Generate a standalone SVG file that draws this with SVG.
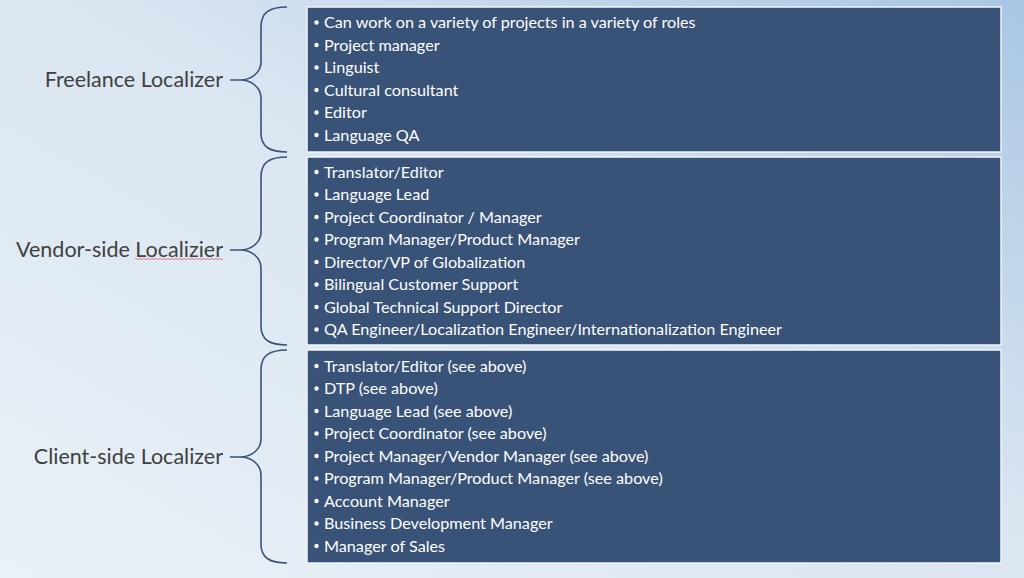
<svg xmlns="http://www.w3.org/2000/svg" width="1024" height="578" viewBox="0 0 1024 578">
<defs>
<linearGradient id="bg" x1="1" y1="0" x2="0" y2="1">
<stop offset="0" stop-color="#a9c6e3"/>
<stop offset="0.45" stop-color="#d9e5f1"/>
<stop offset="1" stop-color="#eaf1f7"/>
</linearGradient>
<style>
.box{fill:#385278;stroke:#f2f6fb;stroke-width:1.5}
.brace{fill:none;stroke:#3a5277;stroke-width:1.6}
.lbl{font-family:Lato,"Open Sans","Liberation Sans",sans-serif;font-size:21.5px;fill:#404040;text-anchor:end}
.item{font-family:Lato,"Open Sans","Liberation Sans",sans-serif;font-size:16.2px;fill:#ffffff}
.bul{fill:#ffffff}
</style>
</defs>
<rect width="1024" height="578" fill="url(#bg)"/>
<g id="connectors">
<path class="brace" d="M287 7 C270 7 261 12 261 27 L261 62 C261 72 252 80 240 80 C252 80 261 88 261 98 L261 133 C261 147 270 152 287 152 M230 80 L240 80"/>
<path class="brace" d="M287 157 C270 157 261 162 261 177 L261 232 C261 242 252 250 240 250 C252 250 261 258 261 268 L261 326 C261 340 270 345 287 345 M230 250 L240 250"/>
<path class="brace" d="M287 350 C270 350 261 355 261 370 L261 439 C261 449 252 457 240 457 C252 457 261 465 261 475 L261 544 C261 558 270 563 287 563 M230 457 L240 457"/>
<path d="M135 259 q1 -1.5 2 0 t2 0 t2 0 t2 0 t2 0 t2 0 t2 0 t2 0 t2 0 t2 0 t2 0 t2 0 t2 0 t2 0 t2 0 t2 0 t2 0 t2 0 t2 0 t2 0 t2 0 t2 0 t2 0 t2 0 t2 0 t2 0 t2 0 t2 0 t2 0 t2 0 t2 0 t2 0 t2 0 t2 0 t2 0 t2 0 t2 0 t2 0 t2 0 t2 0 t2 0 t2 0 t2 0 t2 0" fill="none" stroke="#e06060" stroke-width="0.8"/>
</g>
<g id="freelance">
<text class="lbl" x="223" y="87">Freelance Localizer</text>
<rect class="box" x="307" y="7" width="694" height="145"/>
<g class="bul">
<circle cx="316.5" cy="22.5" r="2.2"/><circle cx="316.5" cy="45" r="2.2"/><circle cx="316.5" cy="67.5" r="2.2"/><circle cx="316.5" cy="90" r="2.2"/><circle cx="316.5" cy="112.5" r="2.2"/><circle cx="316.5" cy="135" r="2.2"/>
</g>
<g class="item">
<text x="324" y="28">Can work on a variety of projects in a variety of roles</text>
<text x="324" y="50.5">Project manager</text>
<text x="324" y="73">Linguist</text>
<text x="324" y="95.5">Cultural consultant</text>
<text x="324" y="118">Editor</text>
<text x="324" y="140.5">Language QA</text>
</g>
</g>
<g id="vendor">
<text class="lbl" x="223" y="257">Vendor-side Localizier</text>
<rect class="box" x="307" y="157" width="694" height="188"/>
<g class="bul">
<circle cx="316.5" cy="172" r="2.2"/><circle cx="316.5" cy="194.5" r="2.2"/><circle cx="316.5" cy="217" r="2.2"/><circle cx="316.5" cy="239.5" r="2.2"/><circle cx="316.5" cy="262" r="2.2"/><circle cx="316.5" cy="284.5" r="2.2"/><circle cx="316.5" cy="307" r="2.2"/><circle cx="316.5" cy="329.5" r="2.2"/>
</g>
<g class="item">
<text x="324" y="177.5">Translator/Editor</text>
<text x="324" y="200">Language Lead</text>
<text x="324" y="222.5">Project Coordinator / Manager</text>
<text x="324" y="245">Program Manager/Product Manager</text>
<text x="324" y="267.5">Director/VP of Globalization</text>
<text x="324" y="290">Bilingual Customer Support</text>
<text x="324" y="312.5">Global Technical Support Director</text>
<text x="324" y="335">QA Engineer/Localization Engineer/Internationalization Engineer</text>
</g>
</g>
<g id="client">
<text class="lbl" x="223" y="464">Client-side Localizer</text>
<rect class="box" x="307" y="350" width="694" height="213"/>
<g class="bul">
<circle cx="316.5" cy="366" r="2.2"/><circle cx="316.5" cy="388.5" r="2.2"/><circle cx="316.5" cy="411" r="2.2"/><circle cx="316.5" cy="433.5" r="2.2"/><circle cx="316.5" cy="456" r="2.2"/><circle cx="316.5" cy="478.5" r="2.2"/><circle cx="316.5" cy="501" r="2.2"/><circle cx="316.5" cy="523.5" r="2.2"/><circle cx="316.5" cy="546" r="2.2"/>
</g>
<g class="item">
<text x="324" y="371.5">Translator/Editor (see above)</text>
<text x="324" y="394">DTP (see above)</text>
<text x="324" y="416.5">Language Lead (see above)</text>
<text x="324" y="439">Project Coordinator (see above)</text>
<text x="324" y="461.5">Project Manager/Vendor Manager (see above)</text>
<text x="324" y="484">Program Manager/Product Manager (see above)</text>
<text x="324" y="506.5">Account Manager</text>
<text x="324" y="529">Business Development Manager</text>
<text x="324" y="551.5">Manager of Sales</text>
</g>
</g>
</svg>
